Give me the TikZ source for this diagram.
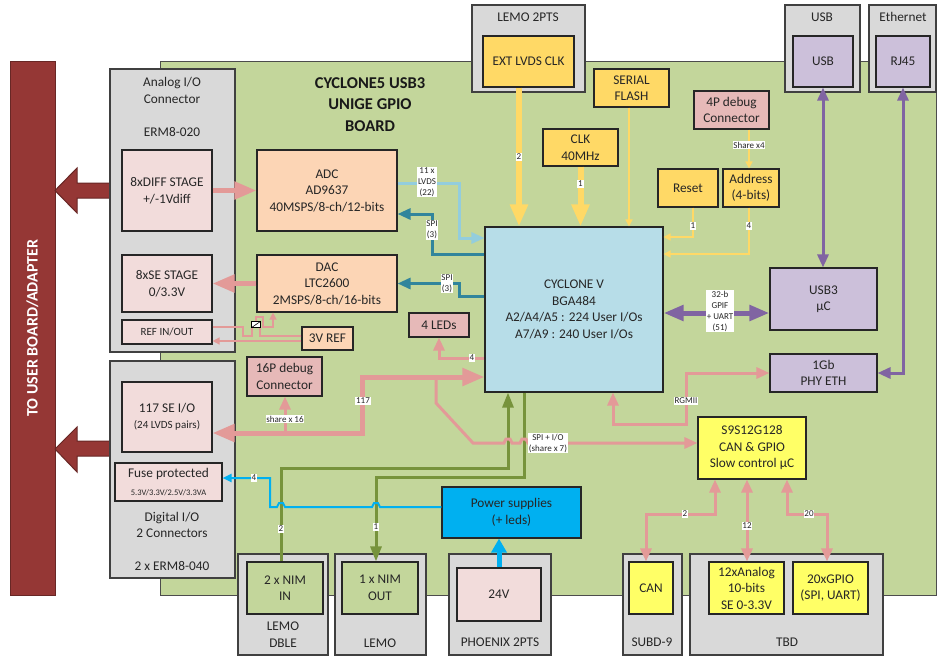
\documentclass[tikz,border=0pt]{standalone}
\usepackage{fontspec}
\setmainfont{Carlito}
\usetikzlibrary{arrows.meta}
\definecolor{boardg}{HTML}{C3D69B}
\definecolor{grayb}{HTML}{D9D9D9}
\definecolor{pinkb}{HTML}{F2DCDB}
\definecolor{peach}{HTML}{FCD5B5}
\definecolor{rose}{HTML}{E6B9B8}
\definecolor{yel}{HTML}{FFD966}
\definecolor{byel}{HTML}{FFFF66}
\definecolor{cyc}{HTML}{B7DDE8}
\definecolor{lil}{HTML}{CCC0DA}
\definecolor{purp}{HTML}{8064A2}
\definecolor{pwr}{HTML}{00B0F0}
\definecolor{dred}{HTML}{953735}
\definecolor{cteal}{HTML}{31859C}
\definecolor{lblue}{HTML}{93CDDD}
\definecolor{pnk}{HTML}{E39A98}
\definecolor{colive}{HTML}{77933C}
\newcommand\fmain{\fontsize{13.3}{16.5}\selectfont}
\newcommand\fsmall{\fontsize{9}{11}\selectfont}
\newcommand\fmid{\fontsize{11}{13}\selectfont}
\newcommand\ftiny{\fontsize{8.5}{10}\selectfont}
\newcommand\mybox[7]{\node[#1, minimum width={(#5)-(#3)}, minimum height={(#6)-(#4)}] (#2) at ({((#3)+(#5))/2},{((#4)+(#6))/2}) {#7};}
\tikzset{
  BigT/.tip={Triangle[length=22pt,width=17pt]},
  MedT/.tip={Triangle[length=13pt,width=11pt]},
  SmT/.tip={Triangle[length=7pt,width=7pt]},
  PurT/.tip={Triangle[length=20pt,width=15pt]},
  GrnT/.tip={Triangle[length=15pt,width=11pt]},
  BlT/.tip={Triangle[length=9pt,width=8pt]},
  BlBig/.tip={Triangle[length=14pt,width=15pt]},
  bx/.style={draw=black!85, line width=1.1pt, inner sep=1pt, align=center, font=\fmain, text=black!85},
  gb/.style={draw=black!75, line width=1.1pt, fill=grayb, inner sep=0pt},
  lab/.style={inner sep=0pt, align=center, font=\fmain, text=black!85},
  lbl/.style={fill=white, inner sep=0.8pt, align=center, font=\fsmall, text=black!85},
  pkB/.style={draw=pnk, line width=5pt},
  pkM/.style={draw=pnk, line width=3pt},
  pkS/.style={draw=pnk, line width=1.3pt},
  ylB/.style={draw=yel, line width=6pt},
  ylS/.style={draw=yel, line width=1.5pt},
  lb/.style={draw=lblue, line width=3pt},
  tl/.style={draw=cteal, line width=3pt},
  prB/.style={draw=purp, line width=5pt},
  prM/.style={draw=purp, line width=3pt},
  gr/.style={draw=colive, line width=3pt},
  bl/.style={draw=pwr, line width=2pt},
  blB/.style={draw=pwr, line width=5pt},
}
\begin{document}
\begin{tikzpicture}[x=1pt,y=-1pt]
\useasboundingbox[fill=white] (0,0) rectangle (938,657);
% board and bar
\mybox{draw=black!70, line width=0.8pt, fill=boardg}{board}{160}{61}{936}{595}{}
\mybox{draw=dred!70!black, line width=1pt, fill=dred}{bar}{10}{61}{55}{595}{}
\node[rotate=90, text=white, font=\fontsize{16}{19}\selectfont\bfseries] (bartxt) at (bar.center) {TO USER BOARD/ADAPTER};
\filldraw[fill=dred, draw=dred!70!black, line width=1pt] (110,183) -- (77,183) -- (77,168) -- (55,190.5) -- (77,213) -- (77,198) -- (110,198) -- cycle;
\filldraw[fill=dred, draw=dred!70!black, line width=1pt] (110,441) -- (77,441) -- (77,427) -- (55,449) -- (77,472) -- (77,456) -- (110,456) -- cycle;
\node[font=\fontsize{16.5}{21.5}\selectfont\bfseries, align=center, text=black!90] (title) at (370,104.5) {CYCLONE5 USB3\\UNIGE GPIO\\BOARD};
% gray connector boxes
\mybox{gb}{analog}{110}{69}{235}{352}{}
\mybox{gb}{digital}{110}{361}{235}{578}{}
\mybox{gb}{lemotop}{472}{5}{585}{92}{}
\mybox{gb}{usbg}{785}{5}{860}{92}{}
\mybox{gb}{ethg}{869}{5}{936}{92}{}
\mybox{gb}{lemod}{238}{554}{328}{655}{}
\mybox{gb}{lemos}{335}{554}{426}{655}{}
\mybox{gb}{phoenix}{449}{554}{551}{655}{}
\mybox{gb}{subd}{623}{554}{682}{655}{}
\mybox{gb}{tbd}{690}{554}{883}{655}{}
\node[lab] (tanalog) at (172,90.5) {Analog I/O\\Connector};
\node[lab] (terma) at (172,132) {ERM8-020};
\node[lab] (tdigital) at (172,525) {Digital I/O\\2 Connectors};
\node[lab] (termb) at (172,566) {2 x ERM8-040};
\node[lab] (tlemotop) at (528,17) {LEMO 2PTS};
\node[lab] (tusb) at (822,17) {USB};
\node[lab] (teth) at (903,17) {Ethernet};
\node[lab] (tlemod) at (283,634.5) {LEMO\\DBLE};
\node[lab] (tlemos) at (380,643) {LEMO};
\node[lab] (tphoenix) at (500,642) {PHOENIX 2PTS};
\node[lab] (tsubd) at (652,642) {SUBD-9};
\node[lab] (ttbd) at (787,642) {TBD};
% boxes
\mybox{bx,fill=pinkb}{diff}{122}{150}{212}{231}{8xDIFF STAGE\\+/-1Vdiff}
\mybox{bx,fill=pinkb}{sestage}{122}{255}{212}{312}{8xSE STAGE\\0/3.3V}
\mybox{bx,fill=pinkb,font=\fmid}{refio}{122}{320}{212}{344}{REF IN/OUT}
\mybox{bx,fill=pinkb}{seio}{122}{382}{212}{452}{117 SE I/O\\{\fmid (24 LVDS pairs)}}
\mybox{bx,fill=pinkb}{fuse}{115}{463}{222}{501}{Fuse protected\\[1pt]{\ftiny 5.3V/3.3V/2.5V/3.3VA}}
\mybox{bx,fill=peach}{adc}{257}{150}{397}{231}{ADC\\AD9637\\40MSPS/8-ch/12-bits}
\mybox{bx,fill=peach}{dac}{257}{255}{397}{312}{DAC\\LTC2600\\2MSPS/8-ch/16-bits}
\mybox{bx,fill=peach}{vref}{302}{327}{353}{350}{3V REF}
\mybox{bx,fill=rose}{leds}{409}{313}{469}{337}{4 LEDs}
\mybox{bx,fill=rose}{dbgsixteen}{247}{357}{322}{396}{16P debug\\Connector}
\mybox{bx,fill=cyc}{cyclone}{485}{227}{663}{392}{CYCLONE V\\BGA484\\A2/A4/A5 : 224 User I/Os\\A7/A9 : 240 User I/Os}
\mybox{bx,fill=yel}{extclk}{483}{36}{574}{87}{EXT LVDS CLK}
\mybox{bx,fill=yel}{flash}{594}{69}{669}{107}{SERIAL\\FLASH}
\mybox{bx,fill=yel}{clk}{543}{129}{618}{166}{CLK\\40MHz}
\mybox{bx,fill=rose}{dbgfour}{694}{91}{769}{129}{4P debug\\Connector}
\mybox{bx,fill=yel}{reset}{658}{169}{718}{207}{Reset}
\mybox{bx,fill=yel}{addr}{723}{169}{779}{207}{Address\\(4-bits)}
\mybox{bx,fill=lil}{usbin}{793}{36}{853}{87}{USB}
\mybox{bx,fill=lil}{rj}{876}{36}{930}{87}{RJ45}
\mybox{bx,fill=lil}{usbthree}{770}{268}{877}{330}{USB3\\µC}
\mybox{bx,fill=lil}{phy}{770}{354}{877}{392}{1Gb\\PHY ETH}
\mybox{bx,fill=byel}{mcu}{698}{417}{806}{479}{S9S12G128\\CAN \& GPIO\\Slow control µC}
\mybox{bx,fill=pwr}{power}{442}{487}{581}{538}{Power supplies\\(+ leds)}
\mybox{bx,fill=boardg}{nimin}{247}{562}{323}{614}{2 x NIM\\IN}
\mybox{bx,fill=boardg}{nimout}{342}{562}{418}{614}{1 x NIM\\OUT}
\mybox{bx,fill=pinkb}{vtf}{457}{568}{541}{621}{24V}
\mybox{bx,fill=byel}{can}{629}{562}{673}{614}{CAN}
\mybox{bx,fill=byel}{ana}{709}{562}{784}{614}{12xAnalog\\10-bits\\SE 0-3.3V}
\mybox{bx,fill=byel}{gpio}{793}{562}{868}{614}{20xGPIO\\(SPI, UART)}
% analog connectors
\draw[pkB, arrows={-BigT}] (diff.east) -- (adc.west);
\draw[pkB, arrows={-BigT}] (dac.west) -- (sestage.east);
\draw[lb, arrows={-MedT}] (adc.east |- 0,183) -- (459,183) -- (459,238) -- (cyclone.west |- 0,238);
\draw[tl, arrows={-MedT}] (cyclone.west |- 0,254) -- (432,254) -- (432,214) -- (adc.east |- 0,214);
\draw[tl, arrows={-MedT}] (cyclone.west |- 0,296) -- (459,296) -- (459,283.5) -- (dac.east);
\node[lbl] (llvds) at (427,182) {11 x\\LVDS\\(22)};
\node[lbl] (lspia) at (432,230) {SPI\\(3)};
\node[lbl] (lspib) at (447,283.5) {SPI\\(3)};
% reference
\draw[pkS] (refio.east |- 0,327) -- (243,327) -- (243,336) -- (252,336) -- (252,328);
\draw[pkS] (vref.west |- 0,336) -- (260,336) -- (260,328);
\draw[pkS, arrows={-SmT}] (256,321) -- (256,317) -- (263,317) -- (263,327) -- (273,327) -- (273,0 |- dac.south);
\draw[pkS, arrows={-SmT}] (vref.west |- 0,341) -- (refio.east |- 0,341);
\node[draw=black, fill=white, line width=0.6pt, minimum width=9pt, minimum height=6pt, inner sep=0pt] (sw) at (256,324.5) {};
\draw[line width=0.6pt] (sw.south west) -- (sw.north east);
% top yellow
\draw[ylB, arrows={-BigT}] (519,0 |- extclk.south) -- (519,0 |- cyclone.north);
\draw[ylB, arrows={-BigT}] (clk.south) -- (clk.south |- cyclone.north);
\draw[ylS, arrows={-SmT}] (629,0 |- flash.south) -- (629,0 |- cyclone.north);
\draw[ylS, arrows={-SmT}] (749,0 |- dbgfour.south) -- (749,0 |- addr.north);
\draw[ylS, arrows={-SmT}] (693,0 |- reset.south) -- (693,237) -- (cyclone.east |- 0,237);
\draw[ylS, arrows={-SmT}] (749,0 |- addr.south) -- (749,254) -- (cyclone.east |- 0,254);
\node[lbl] (lext) at (519,157) {2};
\node[lbl] (lclk) at (clk.south |- 0,184) {1};
\node[lbl] (lshare) at (749,145) {Share x4};
\node[lbl] (lreset) at (693,226) {1};
\node[lbl] (laddr) at (749,226) {4};
% purple
\draw[prB, arrows={PurT-PurT}] (cyclone.east |- 0,313) -- (usbthree.west |- 0,313);
\draw[prM, arrows={MedT-MedT}] (usbin.south) -- (usbin.south |- usbthree.north);
\draw[prM, arrows={MedT-MedT}] (rj.south) -- (rj.south |- phy.east) -- (phy.east);
\node[lbl] (lgpif) at (720,311) {32-b\\GPIF\\+ UART\\(51)};
% pink io
\draw[pkM, arrows={-MedT}] (cyclone.west |- 0,358) -- (leds.south |- 0,358) -- (leds.south);
\node[lbl] (lleds) at (472,358) {4};
\draw[pkB, arrows={BigT-BigT}] (seio.east |- 0,433) -- (362,433) -- (362,377) -- (cyclone.west |- 0,377);
\draw[pkM, arrows={-MedT}] (285,433) -- (285,0 |- dbgsixteen.south);
\node[lbl] (lsixteen) at (285,419) {share x 16};
\node[lbl] (lonesev) at (363,401) {117};
\draw[pkM, arrows={MedT-MedT}] (613,0 |- cyclone.south) -- (613,424) -- (686,424) -- (686,0 |- phy.west) -- (phy.west);
\node[lbl] (lrgmii) at (686,401) {RGMII};
% green NIM
\draw[gr, arrows={-GrnT}] (281,0 |- nimin.north) -- (281,468) -- (508,468) -- (508,0 |- cyclone.south);
\draw[gr, arrows={-GrnT}] (524,0 |- cyclone.south) -- (524,477) -- (376,477) -- (376,0 |- nimout.north);
\node[lbl] (lnimin) at (281,529) {2};
\node[lbl] (lnimout) at (376,527) {1};
% spi + io to mcu (hops over green)
\draw[pkM, arrows={-MedT}] (436,377) -- (436,403) -- (473,443) -- (504,443) -- (506,439) -- (510,439) -- (512,443) -- (520,443) -- (522,439) -- (526,439) -- (528,443) -- (mcu.west |- 0,443);
\node[lbl] (lspiio) at (548,443) {SPI + I/O\\(share x 7)};
% power (hops over green)
\draw[bl, arrows={-BlT}] (power.west |- 0,507) -- (380,507) -- (378,503) -- (374,503) -- (372,507) -- (285,507) -- (283,503) -- (279,503) -- (277,507) -- (270,507) -- (270,478) -- (fuse.east |- 0,478);
\node[lbl] (lpwr) at (254,478) {4};
\draw[blB, arrows={-BlBig}] (vtf.north) -- (vtf.north |- power.south);
% mcu to connectors
\draw[pkM, arrows={MedT-MedT}] (715,0 |- mcu.south) -- (715,514) -- (646,514) -- (646,0 |- can.north);
\draw[pkM, arrows={MedT-MedT}] (747,0 |- mcu.south) -- (747,0 |- ana.north);
\draw[pkM, arrows={MedT-MedT}] (787,0 |- mcu.south) -- (787,514) -- (827,514) -- (827,0 |- gpio.north);
\node[lbl] (lcan) at (685,514) {2};
\node[lbl] (lana) at (747,526) {12};
\node[lbl] (lgpio) at (809,514) {20};
\end{tikzpicture}
\end{document}
